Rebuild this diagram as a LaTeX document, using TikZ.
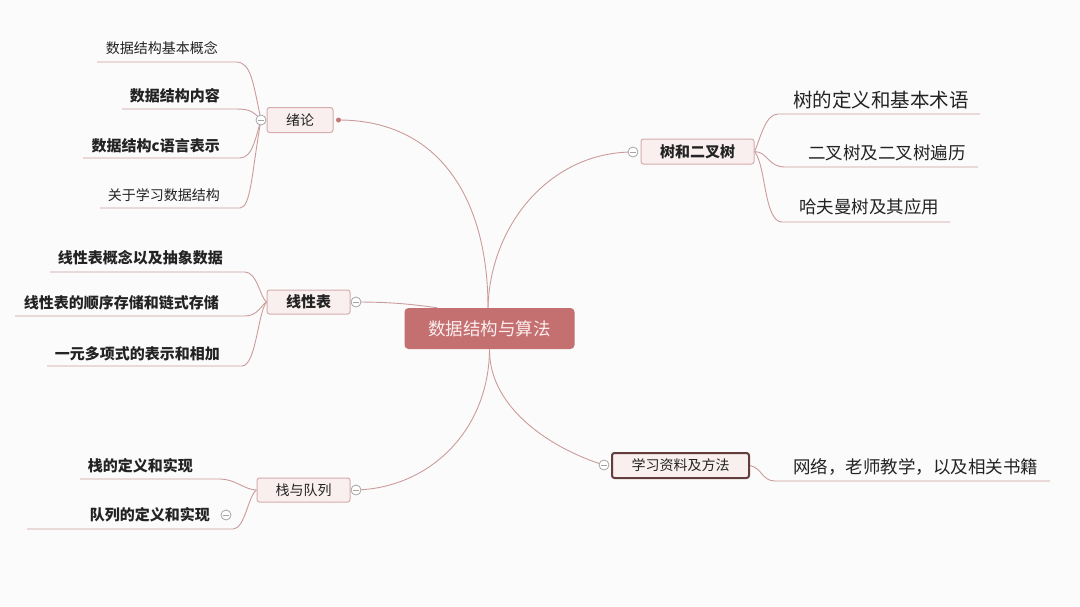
\documentclass[tikz,border=0pt]{standalone}
\usepackage{fontspec}
\setmainfont{Noto Sans CJK SC}
\definecolor{bgc}{RGB}{252,251,251}
\definecolor{linec}{RGB}{203,155,155}
\definecolor{boxfill}{RGB}{249,239,239}
\definecolor{boxdraw}{RGB}{214,172,172}
\definecolor{centralc}{RGB}{196,112,112}
\definecolor{darkc}{RGB}{100,60,60}
\definecolor{txt}{RGB}{35,35,35}
\definecolor{foldc}{RGB}{165,165,165}
\pgfdeclarelayer{baselayer}
\pgfdeclarelayer{bglayer}
\pgfsetlayers{baselayer,bglayer,main}
\tikzset{
  topic/.style={draw=boxdraw, fill=boxfill, rounded corners=2.5pt, line width=1pt,
    minimum height=25pt, inner sep=0pt, text=txt, font=\fontsize{14}{16}\selectfont},
  topicb/.style={topic, font=\fontsize{15}{17}\selectfont\bfseries},
  conn/.style={draw=linec, line width=0.9pt},
  fold/.style={circle, draw=foldc, fill=white, line width=0.8pt, minimum size=10pt, inner sep=0pt,
    path picture={\draw[foldc, line width=0.8pt] ([xshift=-3.2pt]path picture bounding box.center) -- ([xshift=3.2pt]path picture bounding box.center);}},
  leaf/.style={inner sep=0pt, text=txt, font=\fontsize{14}{16}\selectfont},
  leafb/.style={leaf, font=\fontsize{15}{17}\selectfont\bfseries},
  leafl/.style={inner sep=0pt, text=txt, font=\fontsize{17.5}{20}\selectfont},
}
\begin{document}
\begin{tikzpicture}[x=1pt, y=-1pt]
\begin{pgfonlayer}{baselayer}
\fill[bgc] (0,0) rectangle (1080,606);
\end{pgfonlayer}
\useasboundingbox (0,0) rectangle (1080,606);

% central
\node[fill=centralc, rounded corners=4pt, minimum width=170pt, minimum height=41pt, inner sep=0pt,
  text={rgb,255:red,252;green,238;blue,238}, font=\fontsize{17.5}{20}\selectfont] (C) at (489.5,328.5) {数据结构与算法};

% topics
\node[topic, minimum width=66pt] (X) at (300,120) {绪论};
\node[topicb, minimum width=83pt, minimum height=24pt] (L) at (308.5,302) {线性表};
\node[topic, minimum width=93pt, minimum height=24pt] (S) at (303.5,490) {栈与队列};
\node[topicb, minimum width=113pt] (T) at (697.5,151.5) {树和二叉树};
\node[topic, draw=darkc, line width=2pt, minimum width=137pt] (Q) at (680.5,465.5) {学习资料及方法};

% fold markers
\node[fold] (fX) at (261,120) {};
\node[fold] (fL) at (356,302) {};
\node[fold] (fS) at (356,490) {};
\node[fold] (fT) at (633,152) {};
\node[fold] (fQ) at (604,465) {};
\node[fold] (fK) at (226,515) {};
\node[circle, fill={rgb,255:red,196;green,120;blue,120}, minimum size=5pt, inner sep=0pt] (dX) at (338.5,120) {};

% leaves of 绪论
\node[leaf, anchor=east] (x1) at (218,48) {数据结构基本概念};
\node[leafb, anchor=east] (x2) at (220,96) {数据结构内容};
\node[leafb, anchor=east] (x3) at (220,146) {数据结构c语言表示};
\node[leaf, anchor=east] (x4) at (220,195) {关于学习数据结构};
\coordinate (x1a) at (236,62);  \coordinate (x1b) at (97,62);
\coordinate (x2a) at (237,109); \coordinate (x2b) at (122,109);
\coordinate (x3a) at (240,158); \coordinate (x3b) at (83,158);
\coordinate (x4a) at (240,208); \coordinate (x4b) at (100,208);

% leaves of 线性表
\node[leafb, anchor=east] (l1) at (223,258) {线性表概念以及抽象数据};
\node[leafb, anchor=east] (l2) at (219,303) {线性表的顺序存储和链式存储};
\node[leafb, anchor=east] (l3) at (220,354) {一元多项式的表示和相加};
\coordinate (l1a) at (245,272); \coordinate (l1b) at (50,272);
\coordinate (l2a) at (245,316); \coordinate (l2b) at (15,316);
\coordinate (l3a) at (242,366); \coordinate (l3b) at (47,366);

% leaves of 栈与队列
\node[leafb, anchor=east] (s1) at (193,466) {栈的定义和实现};
\node[leafb, anchor=east] (s2) at (210,515) {队列的定义和实现};
\coordinate (s1a) at (220,479); \coordinate (s1b) at (80,479);
\coordinate (s2a) at (233,529); \coordinate (s2b) at (27,529);

% leaves of 树和二叉树
\node[inner sep=0pt, text=txt, font=\fontsize{19.5}{22}\selectfont, anchor=west] (t1) at (793,100) {树的定义和基本术语};
\node[leafl, anchor=west] (t2) at (808,153) {二叉树及二叉树遍历};
\node[leafl, anchor=west] (t3) at (799,207) {哈夫曼树及其应用};
\coordinate (t1a) at (778,114); \coordinate (t1b) at (980,114);
\coordinate (t2a) at (785,167); \coordinate (t2b) at (978,167);
\coordinate (t3a) at (782,222); \coordinate (t3b) at (950,222);

% leaf of 学习资料及方法
\node[leafl, anchor=west] (q1) at (793,467) {网络，老师教学，以及相关书籍};
\coordinate (q1a) at (775,481); \coordinate (q1b) at (1050,481);

\begin{pgfonlayer}{bglayer}
% main connectors
\draw[conn] ([xshift=-1.5pt]C.north) .. controls (488,200) and (440,120) .. (dX.center);
\draw[conn] ([xshift=-1.5pt]C.north) .. controls (490,225) and (550,152) .. (fT.center);
\draw[conn] (fL.center) .. controls (390,302) and (410,304) .. ([xshift=33pt]C.north west);
\draw[conn] (C.south) .. controls (489,430) and (430,488) .. (fS.center);
\draw[conn] (C.south) .. controls (489,410) and (555,450) .. (fQ.center);

% 绪论 branches
\draw[conn] (fX.center) .. controls (253,82) and (251,62) .. (x1a) -- (x1b);
\draw[conn] (fX.center) .. controls (255,113) and (251,109) .. (x2a) -- (x2b);
\draw[conn] (fX.center) .. controls (256,135) and (253,158) .. (x3a) -- (x3b);
\draw[conn] (fX.center) .. controls (252,170) and (251,208) .. (x4a) -- (x4b);

% 线性表 branches
\draw[conn] (L.west) .. controls (260,297) and (257,272) .. (l1a) -- (l1b);
\draw[conn] (L.west) .. controls (262,304) and (258,316) .. (l2a) -- (l2b);
\draw[conn] (L.west) .. controls (258,312) and (256,366) .. (l3a) -- (l3b);

% 栈与队列 branches
\draw[conn] (S.west) .. controls (245,490) and (235,479) .. (s1a) -- (s1b);
\draw[conn] (S.west) .. controls (248,496) and (245,529) .. (s2a) -- (s2b);

% 树和二叉树 branches
\draw[conn] (T.east) .. controls (760,140) and (765,114) .. (t1a) -- (t1b);
\draw[conn] (T.east) .. controls (768,152) and (768,167) .. (t2a) -- (t2b);
\draw[conn] (T.east) .. controls (766,165) and (764,222) .. (t3a) -- (t3b);

% 学习资料及方法 branch
\draw[conn] (Q.east) .. controls (762,468) and (762,481) .. (q1a) -- (q1b);
\end{pgfonlayer}
\end{tikzpicture}
\end{document}
